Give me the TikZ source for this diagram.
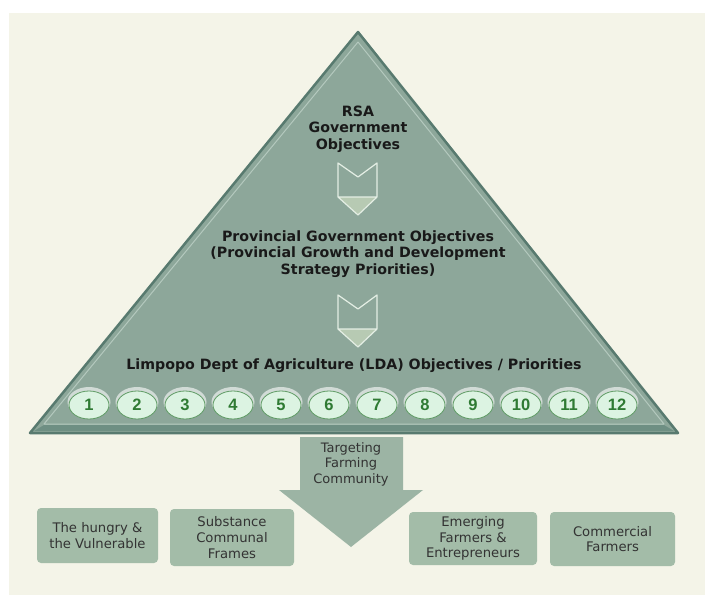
\documentclass[tikz,border=0pt]{standalone}
\usepackage{fontspec}
\setmainfont{DejaVu Sans}
\newfontfamily\numfont{Liberation Sans}
\usetikzlibrary{shapes.geometric}
\definecolor{bgbeige}{HTML}{F4F4E8}
\definecolor{trifill}{HTML}{8DA79A}
\definecolor{triedge}{HTML}{587A6F}
\definecolor{trilight}{HTML}{B4C9BE}
\definecolor{tribase}{HTML}{6E8F83}
\definecolor{ovalfill}{HTML}{DCF3E2}
\definecolor{ovaledge}{HTML}{5E9A63}
\definecolor{numgreen}{HTML}{2F7A33}
\definecolor{boxfill}{HTML}{A3BCA8}
\definecolor{arrowfill}{HTML}{9CB4A4}
\definecolor{chevline}{HTML}{E4EEE4}
\definecolor{chevfill}{HTML}{B7CAB3}
\definecolor{boxtext}{HTML}{333333}
\begin{document}
\begin{tikzpicture}[x=1pt,y=-1pt,line join=round,line cap=round]
				\tikzset{every node/.style={align=center,inner sep=0pt},
					headtext/.style={font=\bfseries\fontsize{14.2}{16.6}\selectfont,text=black!90},
					numoval/.style={ellipse,draw=ovaledge,line width=0.8pt,fill=ovalfill,minimum width=40pt,minimum height=28pt,font=\numfont\bfseries\fontsize{16.5}{18}\selectfont,text=numgreen},
					groupbox/.style={rounded corners=4pt,fill=boxfill,font=\fontsize{13.2}{15.7}\selectfont,text=boxtext}}
				\useasboundingbox (0,0) rectangle (705,595);
				\fill[white] (0,0) rectangle (705,595);
				\fill[bgbeige] (9,13) rectangle (705,595);
				% pyramid
				\fill[trifill,draw=triedge,line width=2.5pt] (358,32)--(678,433)--(30,433)--cycle;
				\draw[trilight,line width=1pt] (358,42)--(664,424)--(44,424)--cycle;
				\fill[tribase] (44,425)--(664,425)--(674,431)--(34,431)--cycle;
				\node[headtext] (rsa) at (358,129) {RSA\\Government\\Objectives};
				\node[headtext] (prov) at (358,254) {Provincial Government Objectives\\(Provincial Growth and Development\\Strategy Priorities)};
				\node[headtext] (lda) at (354,366) {Limpopo Dept of Agriculture (LDA) Objectives / Priorities};
				% chevrons
				\foreach \dy in {0,132}{
					\begin{scope}[shift={(0,\dy)}]
						\fill[chevfill] (338,197)--(377,197)--(358,215)--cycle;
						\draw[chevline,line width=1.2pt] (338,163)--(358,177)--(377,163)--(377,197)--(358,215)--(338,197)--cycle
						(338,197)--(377,197);
					\end{scope}
				}
				% priorities
				\foreach \i in {1,...,12}{
					\fill[white,opacity=0.6] ({89+48*(\i-1)},402) ellipse (21.5 and 15);
					\node[numoval] (p\i) at ({89+48*(\i-1)},405) {\i};
				}
				% target arrow
				\fill[arrowfill] (300,437)--(403,437)--(403,490)--(423,490)--(351,547)--(279,490)--(300,490)--cycle;
				\node[font=\fontsize{13}{15.5}\selectfont,text=boxtext] (tgt) at (351,464) {Targeting\\Farming\\Community};
				% groups
				\node[groupbox,minimum width=121pt,minimum height=55pt] (hungry) at (97.5,535.5) {The hungry \&\\the Vulnerable};
				\node[groupbox,minimum width=124pt,minimum height=57pt] (subst) at (232,537.5) {Substance\\Communal\\Frames};
				\node[groupbox,minimum width=128pt,minimum height=53pt] (emerg) at (473,538.5) {Emerging\\Farmers \&\\Entrepreneurs};
				\node[groupbox,minimum width=125pt,minimum height=54pt] (comm) at (612.5,539) {Commercial\\Farmers};
			\end{tikzpicture}
\end{document}
